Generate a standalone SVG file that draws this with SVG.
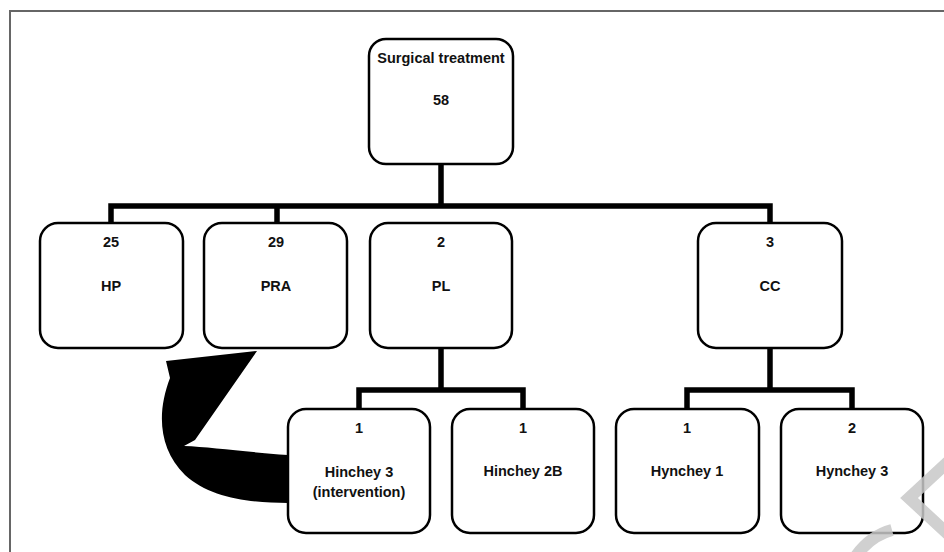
<svg xmlns="http://www.w3.org/2000/svg" width="944" height="552" viewBox="0 0 944 552">
<style>
.box{fill:#fff;stroke:#000;stroke-width:2.5}
.conn{fill:none;stroke:#000;stroke-width:5.5;stroke-linecap:butt;stroke-linejoin:miter}
.t{font-family:"Liberation Sans",Arial,sans-serif;font-weight:bold;font-size:14.5px;fill:#111;text-anchor:middle}
.wm{fill:none;stroke:#c8c8c8;stroke-width:12}
</style>
<rect width="944" height="552" fill="#fff"/>
<g id="frame" fill="none" stroke="#666" stroke-width="2">
<path d="M10 552 V11 H944"/>
</g>
<g id="connectors">
<path class="conn" d="M441 164 V206 M111 225 V206 H770 V225 M277 206 V225"/>
<path class="conn" d="M441 348 V390 M359 411 V390 H523 V411"/>
<path class="conn" d="M770 348 V390 M687 411 V390 H852 V411"/>
<path id="curved-arrow" fill="#000" d="M288 455 C245 452 210 447 184 446 L195 440 L257 351 L166 361 L170 378 C157 412 158 448 185 475 C210 498 250 503 288 503 Z"/>
</g>
<g id="n-surgical">
<rect class="box" x="369" y="39" width="144" height="125" rx="17"/>
<text class="t" x="441" y="63">Surgical treatment</text>
<text class="t" x="441" y="105">58</text>
</g>
<g id="n-hp">
<rect class="box" x="40" y="223" width="143" height="125" rx="18"/>
<text class="t" x="111" y="247">25</text>
<text class="t" x="111" y="291">HP</text>
</g>
<g id="n-pra">
<rect class="box" x="204" y="223" width="143" height="125" rx="18"/>
<text class="t" x="276" y="247">29</text>
<text class="t" x="276" y="291">PRA</text>
</g>
<g id="n-pl">
<rect class="box" x="370" y="223" width="142" height="125" rx="18"/>
<text class="t" x="441" y="247">2</text>
<text class="t" x="441" y="291">PL</text>
</g>
<g id="n-cc">
<rect class="box" x="698" y="223" width="144" height="125" rx="18"/>
<text class="t" x="770" y="247">3</text>
<text class="t" x="770" y="291">CC</text>
</g>
<g id="n-hinchey3">
<rect class="box" x="288" y="409" width="142" height="124" rx="18"/>
<text class="t" x="359" y="433">1</text>
<text class="t" x="359" y="477">Hinchey 3</text>
<text class="t" x="359" y="497">(intervention)</text>
</g>
<g id="n-hinchey2b">
<rect class="box" x="452" y="409" width="142" height="124" rx="18"/>
<text class="t" x="523" y="433">1</text>
<text class="t" x="523" y="476">Hinchey 2B</text>
</g>
<g id="n-hynchey1">
<rect class="box" x="616" y="409" width="143" height="124" rx="18"/>
<text class="t" x="687" y="433">1</text>
<text class="t" x="687" y="476">Hynchey 1</text>
</g>
<g id="n-hynchey3">
<rect class="box" x="781" y="409" width="142" height="124" rx="18"/>
<text class="t" x="852" y="433">2</text>
<text class="t" x="852" y="476">Hynchey 3</text>
</g>
<g id="watermark" opacity="0.85">
<path class="wm" d="M948 462 L909 498 L948 534"/>
<path class="wm" d="M856 556 Q870 536 892 530"/>
</g>
</svg>
